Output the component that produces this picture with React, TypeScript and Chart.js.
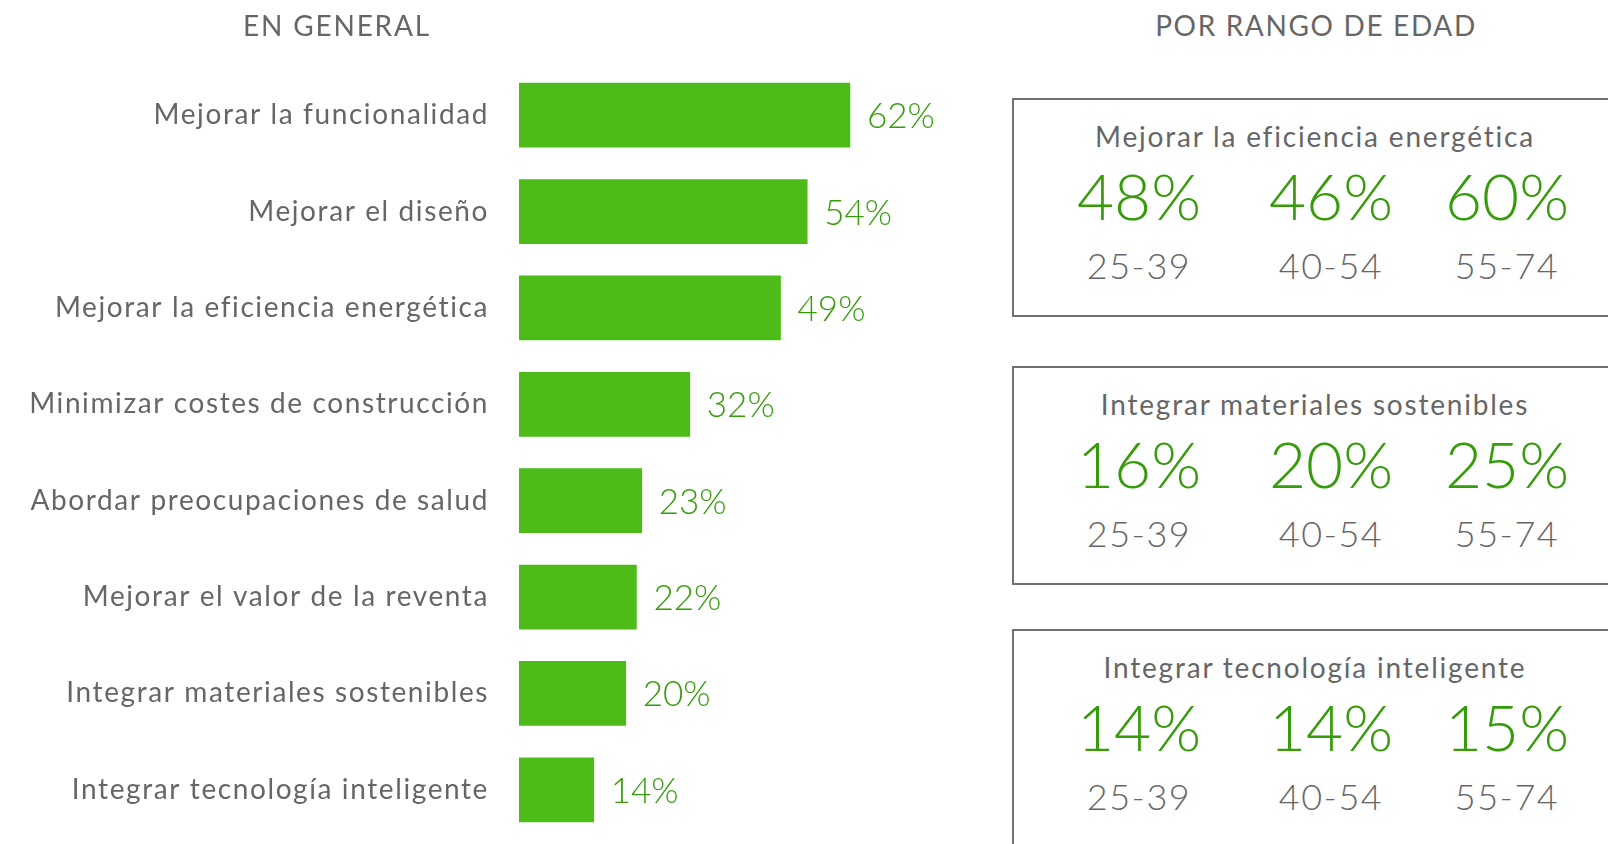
import React, { useEffect, useRef } from "react";
import { Chart, registerables } from "chart.js";

Chart.register(...registerables);

const categories = [
  "Mejorar la funcionalidad",
  "Mejorar el diseño",
  "Mejorar la eficiencia energética",
  "Minimizar costes de construcción",
  "Abordar preocupaciones de salud",
  "Mejorar el valor de la reventa",
  "Integrar materiales sostenibles",
  "Integrar tecnología inteligente",
];
const overallValues = [62, 54, 49, 32, 23, 22, 20, 14];

const ageGroups = ["25-39", "40-54", "55-74"];
const panelTitles = [
  "Mejorar la eficiencia energética",
  "Integrar materiales sostenibles",
  "Integrar tecnología inteligente",
];
const panelEficiencia = [48, 46, 60];
const panelMateriales = [16, 20, 25];
const panelTecnologia = [14, 14, 15];
const panelValues = [panelEficiencia, panelMateriales, panelTecnologia];

const leftTitle = "EN GENERAL";
const rightTitle = "POR RANGO DE EDAD";

const BAR_GREEN = "#4dbb18";
const TEXT_GREEN = "#369c0a";
const GRAY = "#666666";
const FONT = "Lato, 'Open Sans', sans-serif";

const spacingPlugin = {
  id: "letterSpacing",
  beforeDraw(chart: any) {
    chart.ctx.letterSpacing = "1.6px";
  },
};

const valueLabelPlugin = {
  id: "valueLabels",
  afterDatasetsDraw(chart: any) {
    const ctx = chart.ctx;
    const meta = chart.getDatasetMeta(0);
    ctx.save();
    ctx.letterSpacing = "0px";
    ctx.font = `300 35px ${FONT}`;
    ctx.fillStyle = TEXT_GREEN;
    ctx.textAlign = "left";
    ctx.textBaseline = "alphabetic";
    meta.data.forEach((bar: any, i: number) => {
      const v = chart.data.datasets[0].data[i];
      ctx.fillText(`${v}%`, bar.x + 17, bar.y + 13);
    });
    ctx.restore();
  },
};

function BarChart() {
  const ref = useRef<HTMLCanvasElement | null>(null);
  useEffect(() => {
    if (!ref.current) return;
    const chart = new Chart(ref.current, {
      type: "bar",
      data: {
        labels: categories,
        datasets: [
          {
            data: overallValues,
            backgroundColor: BAR_GREEN,
            borderWidth: 0,
            barThickness: 64,
          },
        ],
      },
      options: {
        indexAxis: "y",
        animation: false,
        responsive: false,
        maintainAspectRatio: false,
        layout: { padding: { top: 67, bottom: 6, left: 0, right: 34 } },
        plugins: {
          legend: { display: false },
          tooltip: { enabled: false },
          title: { display: false },
        },
        scales: {
          x: { display: false, min: 0, max: 80 },
          y: {
            afterFit(scale: any) {
              scale.width = 519;
              scale.paddingTop = 0;
              scale.paddingBottom = 0;
            },
            grid: { display: false, drawTicks: false },
            border: { display: false },
            ticks: {
              padding: 30,
              color: GRAY,
              font: { family: FONT, size: 28, weight: "normal" },
            },
          },
        },
      },
      plugins: [spacingPlugin, valueLabelPlugin],
    } as any);
    return () => chart.destroy();
  }, []);
  return (
    <canvas
      ref={ref}
      width={980}
      height={844}
      style={{ position: "absolute", left: 0, top: 0, width: 980, height: 844 }}
    />
  );
}

const boxTops = [98, 366, 629];
const colCenters = [1139, 1331, 1507];

export default function App() {
  return (
    <div
      style={{
        position: "absolute",
        left: 0,
        top: 0,
        width: 1608,
        height: 844,
        overflow: "hidden",
        background: "#ffffff",
        fontFamily: FONT,
      }}
    >
      <BarChart />
      <div
        style={{
          position: "absolute",
          left: 137,
          top: 11,
          width: 400,
          textAlign: "center",
          fontSize: 28,
          lineHeight: "28px",
          letterSpacing: "1.8px",
          color: GRAY,
        }}
      >
        {leftTitle}
      </div>
      <div
        style={{
          position: "absolute",
          left: 1116,
          top: 11,
          width: 400,
          textAlign: "center",
          fontSize: 28,
          lineHeight: "28px",
          letterSpacing: "1.65px",
          color: GRAY,
        }}
      >
        {rightTitle}
      </div>
      {panelTitles.map((t, p) => {
        const top = boxTops[p];
        return (
          <React.Fragment key={t}>
            <div
              style={{
                position: "absolute",
                left: 1012,
                top: top,
                width: 606,
                height: 219,
                boxSizing: "border-box",
                border: "2.5px solid #707070",
              }}
            />
            <div
              style={{
                position: "absolute",
                left: 1015,
                top: top + 24,
                width: 600,
                textAlign: "center",
                fontSize: 28,
                lineHeight: "28px",
                letterSpacing: "1.8px",
                color: GRAY,
              }}
            >
              {t}
            </div>
            {ageGroups.map((g, i) => (
              <React.Fragment key={g}>
                <div
                  style={{
                    position: "absolute",
                    left: colCenters[i] - 100,
                    top: top + 66,
                    width: 200,
                    textAlign: "center",
                    fontSize: 64,
                    lineHeight: "64px",
                    fontWeight: 300,
                    color: TEXT_GREEN,
                  }}
                >
                  {panelValues[p][i]}%
                </div>
                <div
                  style={{
                    position: "absolute",
                    left: colCenters[i] - 100,
                    top: top + 149,
                    width: 200,
                    textAlign: "center",
                    fontSize: 36,
                    lineHeight: "36px",
                    letterSpacing: "1.5px",
                    fontWeight: 300,
                    color: GRAY,
                  }}
                >
                  {g}
                </div>
              </React.Fragment>
            ))}
          </React.Fragment>
        );
      })}
    </div>
  );
}
